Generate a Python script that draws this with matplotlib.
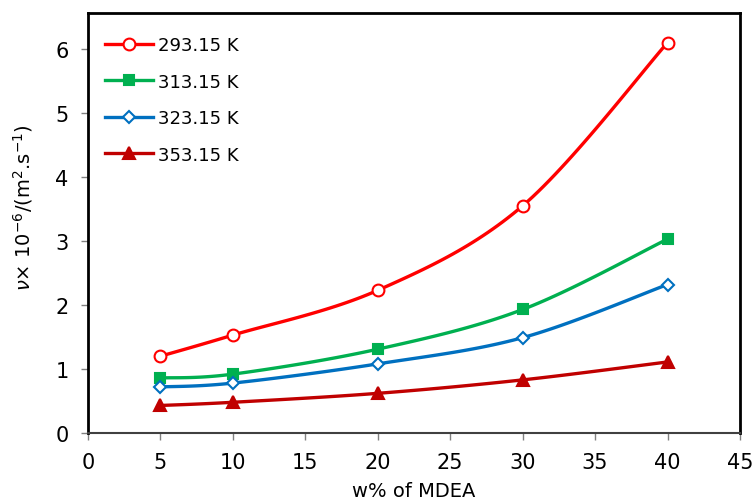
import numpy as np
import matplotlib
matplotlib.use("Agg")
import matplotlib.pyplot as plt

plt.rcParams['font.family'] = ['DejaVu Sans']

w = [5, 10, 20, 30, 40]
labels = ["293.15 K", "313.15 K", "323.15 K", "353.15 K"]
v293 = [1.20, 1.53, 2.23, 3.55, 6.10]
v313 = [0.86, 0.92, 1.31, 1.93, 3.03]
v323 = [0.72, 0.78, 1.08, 1.49, 2.32]
v353 = [0.43, 0.48, 0.62, 0.83, 1.11]
x_ticks = [0, 5, 10, 15, 20, 25, 30, 35, 40, 45]
y_ticks = [0, 1, 2, 3, 4, 5, 6]

series = [v293, v313, v323, v353]
colors = ["#FF0000", "#00B050", "#0070C0", "#C00000"]
markers = ["o", "s", "D", "^"]
mfc = ["white", "#00B050", "white", "#C00000"]
msize = [8.5, 6.5, 6, 8.5]


def smooth(x, y, n=30, t=1/6):
    # Bezier smoothing similar to spreadsheet smoothed lines
    x = np.asarray(x, float); y = np.asarray(y, float)
    xs, ys = [], []
    for i in range(len(x) - 1):
        p0 = np.array([x[max(i - 1, 0)], y[max(i - 1, 0)]])
        p1 = np.array([x[i], y[i]])
        p2 = np.array([x[i + 1], y[i + 1]])
        p3 = np.array([x[min(i + 2, len(x) - 1)], y[min(i + 2, len(x) - 1)]])
        c1 = p1 + (p2 - p0) * t
        c2 = p2 - (p3 - p1) * t
        s = np.linspace(0, 1, n)[:, None]
        b = (1 - s) ** 3 * p1 + 3 * (1 - s) ** 2 * s * c1 + 3 * (1 - s) * s ** 2 * c2 + s ** 3 * p2
        xs.extend(b[:, 0]); ys.extend(b[:, 1])
    return xs, ys


fig = plt.figure(figsize=(7.54, 5.02), dpi=100)
ax = fig.add_axes([88 / 754, 1 - 434 / 502, (740 - 88) / 754, (434 - 14) / 502])

for vals, c, m, fc, ms, lab in zip(series, colors, markers, mfc, msize, labels):
    sx, sy = smooth(w, vals)
    ax.plot(sx, sy, color=c, lw=2.4, zorder=2)
    ax.plot(w, vals, linestyle='none', marker=m, ms=ms, mfc=fc, mec=c, mew=1.5, zorder=3)
    ax.plot([], [], color=c, lw=2.4, marker=m, ms=ms, mfc=fc, mec=c, mew=1.5, label=lab)

ax.set_xlim(0, 45)
ax.set_ylim(0, 420 / 64)
ax.set_xticks(x_ticks)
ax.set_yticks(y_ticks)
ax.tick_params(direction='out', length=5, width=1, color='#808080', labelsize=15, pad=9)
for s in ['top', 'right', 'left']:
    ax.spines[s].set_linewidth(2)
    ax.spines[s].set_color('black')
ax.spines['bottom'].set_linewidth(1.5)
ax.spines['bottom'].set_color('#404040')

ax.set_xlabel("w% of MDEA", fontsize=14)
ax.xaxis.set_label_coords(0.5, (434 - 482) / 420)
ax.set_ylabel(r"$\mathit{\nu}$× 10$^{-6}$/(m$^{2}$.s$^{-1}$)", fontsize=14)
ax.yaxis.set_label_coords((35 - 88) / 652, (434 - 208) / 420)

ax.legend(loc='upper left', frameon=False, fontsize=13, handlelength=2.67, handletextpad=0.28,
          labelspacing=1.03, borderaxespad=0, borderpad=0,
          bbox_to_anchor=((105 - 88) / 652, (434 - 37) / 420))

fig.savefig("out.png", dpi=100)
